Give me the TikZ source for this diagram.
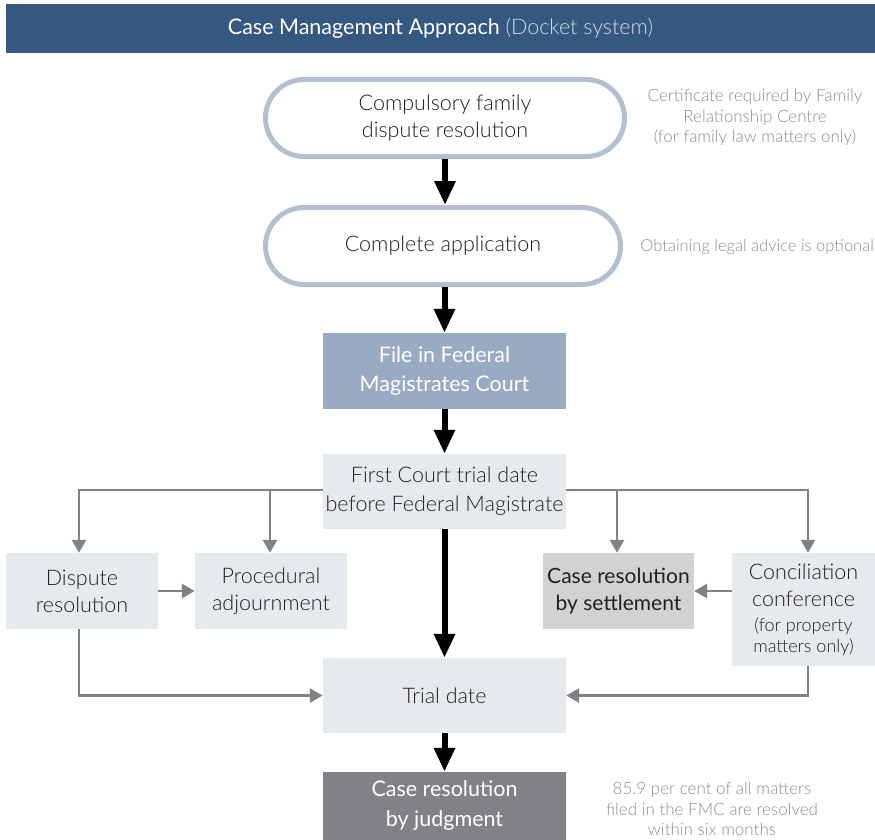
\documentclass[tikz,border=0pt]{standalone}
\usepackage{fontspec}
\IfFontExistsTF{Lato Light}{\setmainfont{Lato Light}[BoldFont=Lato]}{\setmainfont{Lato}}
\newfontfamily\latoreg{Lato}
\usetikzlibrary{arrows.meta}
\definecolor{titleblue}{HTML}{34587F}
\definecolor{pillgray}{HTML}{B2C0D0}
\definecolor{fileblue}{HTML}{98ABC3}
\definecolor{lightbox}{HTML}{E6E9EE}
\definecolor{settlegray}{HTML}{D1D2D4}
\definecolor{judggray}{HTML}{808285}
\definecolor{notegray}{HTML}{8A8C8F}
\definecolor{subtitle}{HTML}{D3DBE6}
\definecolor{textdark}{HTML}{231F20}
\tikzset{
  pill/.style={draw=pillgray, line width=5pt, fill=white, rounded corners=38.5pt,
    minimum height=77pt, align=center, text=textdark, font=\fontsize{21.5}{27}\selectfont},
  box/.style={fill=lightbox, minimum width=243pt, minimum height=75pt, align=center,
    text=textdark, font=\fontsize{21.5}{29}\selectfont, inner sep=0pt},
  sbox/.style={box, minimum width=152pt, minimum height=76pt, font=\fontsize{21.5}{27}\selectfont},
  note/.style={text=notegray, align=center, font=\fontsize{17}{20.5}\selectfont},
  blk/.style={line width=6pt, -{Triangle[width=20pt,length=24pt]}},
  gry/.style={draw=judggray, line width=2.8pt, -{Triangle[width=14pt,length=13pt]}}
}
\begin{document}
\begin{tikzpicture}[x=1pt,y=-1pt]
\useasboundingbox (0,0) rectangle (875,840);
% title
\node[fill=titleblue, minimum width=869pt, minimum height=49pt, inner sep=0pt,
  font=\fontsize{21.5}{24}\selectfont] (title) at (440.5,28.5)
  {\color{white}{\latoreg Case Management Approach} \color{subtitle}(Docket system)};
% terminals
\node[pill, minimum width=359pt] (t1) at (445,118) {Compulsory family\\dispute resolution};
\node[pill, minimum width=355pt] (t2) at (443,246) {Complete application};
% boxes
\node[box, fill=fileblue, text=white, minimum height=76pt, font=\fontsize{21.5}{29}\latoreg] (file) at (444.5,371) {File in Federal\\Magistrates Court};
\node[box] (first) at (444.5,491.5) {First Court trial date\\before Federal Magistrate};
\node[sbox] (disp) at (82,591) {Dispute\\resolution};
\node[sbox] (proc) at (271,591) {Procedural\\adjournment};
\node[sbox, fill=settlegray, minimum width=151pt, font=\fontsize{21}{27}\selectfont\bfseries] (settle) at (618.5,591) {Case resolution\\by settlement};
\node[sbox, minimum width=143pt, minimum height=113pt] (conc) at (803.5,609.5)
  {Conciliation\\conference\\[-2pt]{\fontsize{18}{21}\selectfont (for property}\\[-6pt]{\fontsize{18}{21}\selectfont matters only)}};
\node[box] (trial) at (444.5,695.5) {Trial date};
\node[box, fill=judggray, text=white, minimum height=68pt, font=\fontsize{21.5}{30}\latoreg] (judg) at (444.5,806) {Case resolution\\by judgment};
% notes
\node[note] (n1) at (755,117.5) {Certificate required by Family\\Relationship Centre\\(for family law matters only)};
\node[note, anchor=east, inner xsep=1pt, font=\fontsize{16.5}{20}\selectfont] (n2) at (875,247) {Obtaining legal advice is optional};
\node[note] (n3) at (712,809) {85.9 per cent of all matters\\filed in the FMC are resolved\\within six months};
% black arrows
\draw[blk] (t1.south) -- (t1.south |- t2.north);
\draw[blk] (t2.south -| file.north) -- (file.north);
\draw[blk] (file.south) -- (first.north);
\draw[blk] (first.south) -- (trial.north);
\draw[blk] (trial.south) -- (judg.north);
% gray connectors
\coordinate (dtop) at ([xshift=-3pt]disp.north);
\coordinate (ptop) at ([xshift=-1pt]proc.north);
\coordinate (stop) at ([xshift=-1.5pt]settle.north);
\coordinate (ctop) at ([xshift=4.5pt]conc.north);
\coordinate (cbot) at ([xshift=4.5pt]conc.south);
\coordinate (dbot) at ([xshift=-3pt]disp.south);
\draw[gry] ([yshift=1.5pt]first.west) -| (dtop);
\draw[gry] ([yshift=1.5pt]first.west -| ptop) -- (ptop);
\draw[gry] ([yshift=1.5pt]first.east) -| (ctop);
\draw[gry] ([yshift=1.5pt]first.east -| stop) -- (stop);
\draw[gry] (disp.east) -- (proc.west);
\draw[gry] (conc.west |- settle.east) -- (settle.east);
\draw[gry] (dbot) |- (trial.west);
\draw[gry] (cbot) |- (trial.east);
\end{tikzpicture}
\end{document}
